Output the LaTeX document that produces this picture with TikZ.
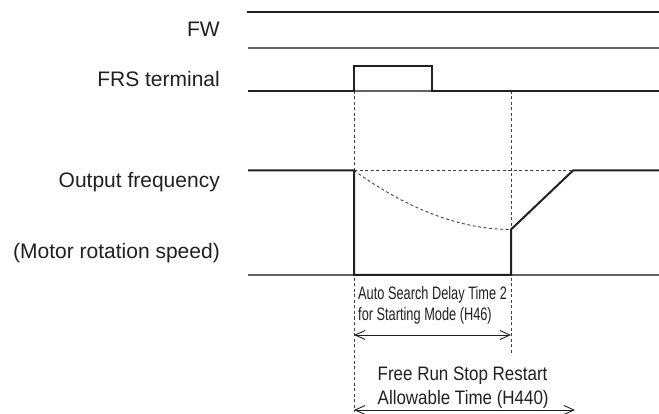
\documentclass[tikz,border=0pt]{standalone}
\usepackage{fontspec}
\setmainfont{Liberation Sans}
\newfontfamily\narrowA[FakeStretch=0.71]{Liberation Sans}
\newfontfamily\narrowB[FakeStretch=0.87]{Liberation Sans}
\usetikzlibrary{arrows.meta}
\definecolor{ink}{HTML}{231F20}
\begin{document}
\begin{tikzpicture}[x=1pt,y=-1pt,
  sig/.style={line width=2pt, draw=ink, line join=miter},
  baseln/.style={line width=1.3pt, draw=ink!70},
  guide/.style={line width=0.9pt, draw=ink!85, dash pattern=on 3pt off 2.5pt},
  span/.style={line width=0.9pt, draw=ink, {Straight Barb[length=10pt,width=9pt]}-{Straight Barb[length=10pt,width=9pt]}},
  lbl/.style={inner sep=0, text=ink, font=\fontsize{21}{25}\selectfont, anchor=base east},
  lblA/.style={inner sep=0, text=ink, font=\narrowA\fontsize{18}{20}\selectfont, anchor=base west},
  lblB/.style={inner sep=0, text=ink, font=\narrowB\fontsize{19.5}{24}\selectfont, anchor=base west}]
\useasboundingbox (0,0) rectangle (659,414);
% key points
\coordinate (fwA) at (247,12.5);  \coordinate (fwB) at (659,12.5);
\coordinate (gA) at (248,48);     \coordinate (gB) at (659,48);
\coordinate (frsA) at (248,91);   \coordinate (p1) at (354,91);
\coordinate (p2) at (354,66);     \coordinate (p3) at (432,66);
\coordinate (p4) at (432,91);     \coordinate (frsB) at (659,91);
\coordinate (q2) at (511,91);
\coordinate (ofA) at (248,170.5); \coordinate (o1) at (354,170.5);
\coordinate (o2) at (354,275);    \coordinate (o3) at (511,275);
\coordinate (o4) at (511,229.5);  \coordinate (o5) at (573,170.5);
\coordinate (ofB) at (659,170.5);
\coordinate (bA) at (248,275);    \coordinate (bB) at (659,275);
\coordinate (d1) at (354,412);    \coordinate (d2) at (511,355);
\coordinate (a1L) at (354,335);   \coordinate (a1R) at (511,335);
\coordinate (a2L) at (354,410);   \coordinate (a2R) at (575,410);
% labels
\node[lbl] (fw) at (220,37) {FW};
\node[lbl] (frs) at (220,87) {FRS terminal};
\node[lbl] (of) at (220,187.5) {Output frequency};
\node[lbl] (ms) at (220,258.5) {(Motor rotation speed)};
\node[lblA] (h46a) at (358,300) {Auto Search Delay Time 2};
\node[lblA] (h46b) at (358,320) {for Starting Mode (H46)};
\node[lblB] (h440a) at (377.5,380) {Free Run Stop Restart};
\node[lblB] (h440b) at (377.5,404) {Allowable Time (H440)};
% guides
\draw[guide] (p1) -- (d1);
\draw[guide] (q2) -- (d2);
\draw[guide] (o1) -- (o5);
\draw[guide] (o1) .. controls (395,200) and (450,229.5) .. (o4);
% signals
\draw[sig] (fwA) -- (fwB);
\draw[baseln] (gA) -- (gB);
\draw[baseln] (p1) -- (p4);
\draw[sig] (frsA) -- (p1) -- (p2) -- (p3) -- (p4) -- (frsB);
\draw[baseln] (bA) -- (bB);
\draw[sig] (ofA) -- (o1) -- (o2) -- (o3) -- (o4) -- (o5) -- (ofB);
% spans
\draw[span] (a1L) -- (a1R);
\draw[span] (a2L) -- (a2R);
\end{tikzpicture}
\end{document}
